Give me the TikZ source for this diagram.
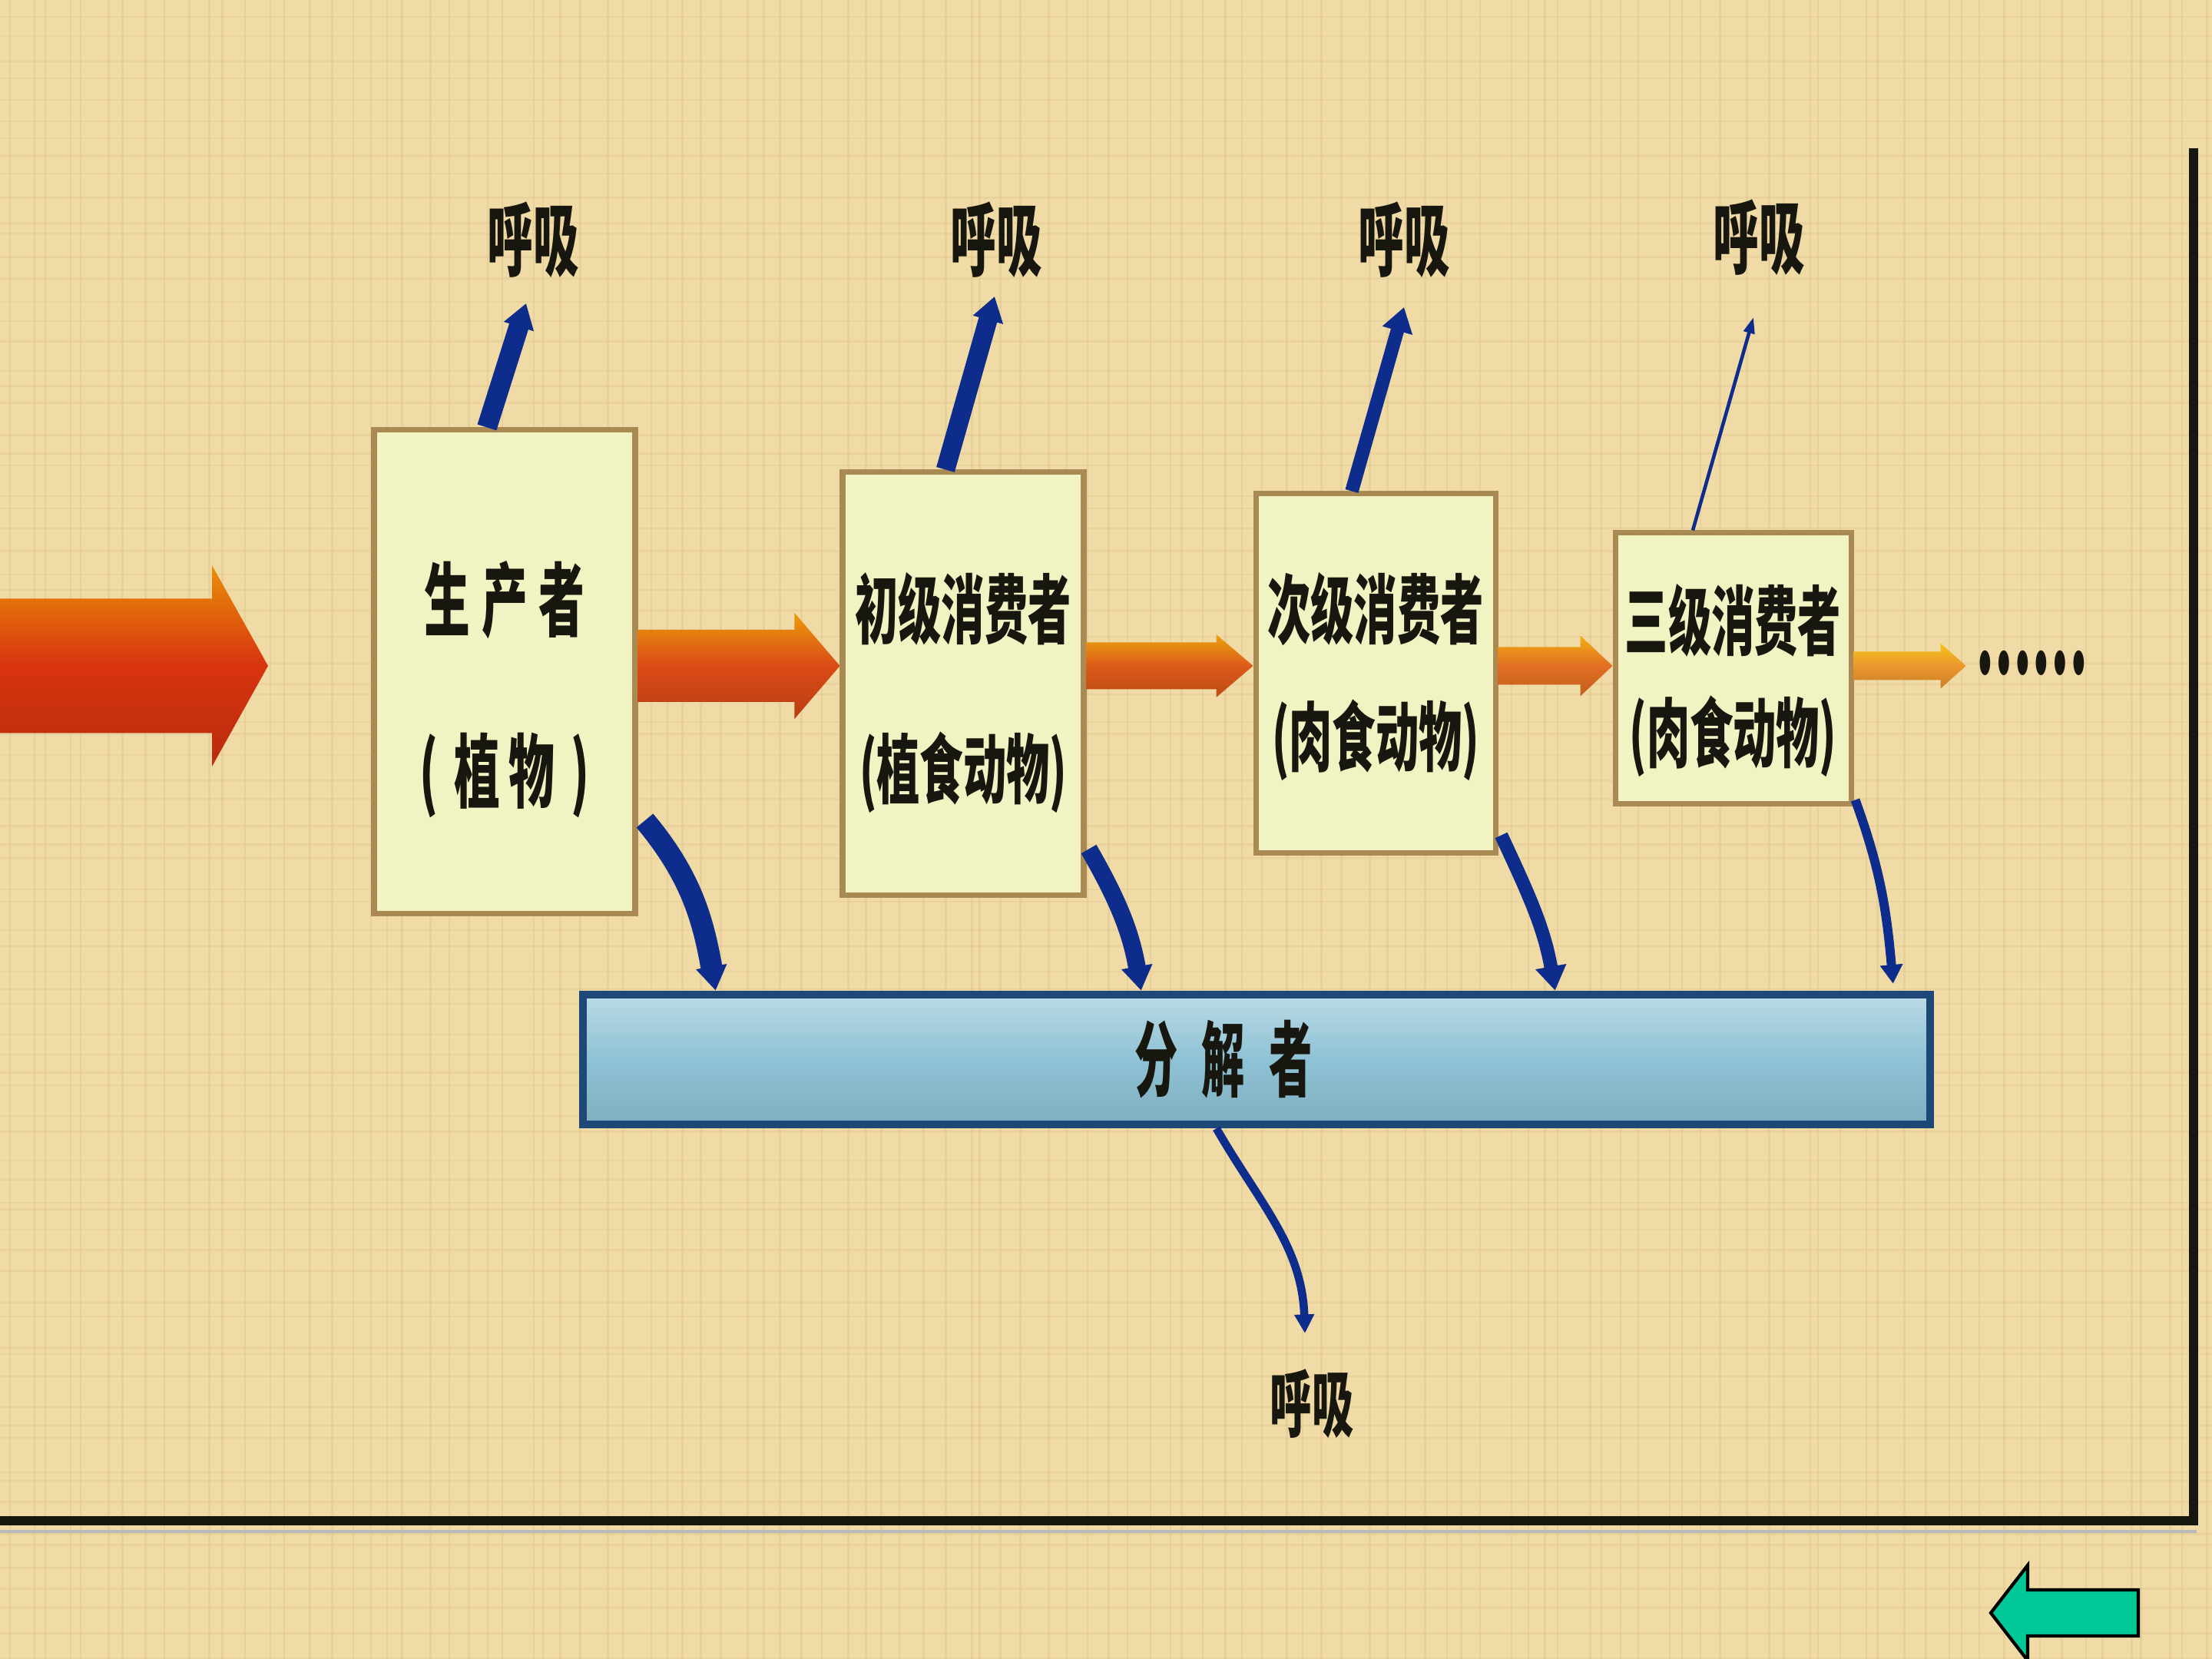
\documentclass[tikz,border=0pt]{standalone}
\usepackage{fontspec}
\usepackage{graphicx}
\newfontfamily\cjk{Noto Sans CJK SC}
\usetikzlibrary{positioning,arrows.meta,calc}
\definecolor{cPaper}{HTML}{F0DAA6}
\definecolor{cGrain}{HTML}{D9BE84}
\definecolor{cBoxFill}{HTML}{F1F3C2}
\definecolor{cBoxEdge}{HTML}{A98A52}
\definecolor{cBarFill}{HTML}{8EC2D5}
\definecolor{cBarEdge}{HTML}{1E4878}
\definecolor{cResp}{HTML}{0E2C8C}
\definecolor{cInk}{HTML}{17170F}
\definecolor{cRed}{HTML}{D8340F}
\definecolor{cRedB}{HTML}{DA4A16}
\definecolor{cRedC}{HTML}{DC5A1A}
\definecolor{cRedD}{HTML}{E26E22}
\definecolor{cOrange}{HTML}{EC962E}
\definecolor{cBack}{HTML}{00C896}

\newcommand{\tall}[2][1.75]{\scalebox{1}[#1]{#2}}
% energy arrow: start, tip, shaft half height, head half height, head length, colour
\newcommand{\energyarrow}[6]{%
  \shade[top color=#6!55!yellow, bottom color=#6!85!black, middle color=#6]
    ($(#1)+(0,#3)$) -- ($(#2)+(-#5,#3)$) -- ($(#2)+(-#5,#4)$) -- (#2)
    -- ($(#2)+(-#5,-#4)$) -- ($(#2)+(-#5,-#3)$) -- ($(#1)+(0,-#3)$) -- cycle;}

\begin{document}
\begin{tikzpicture}[
  box/.style={draw=cBoxEdge, fill=cBoxFill, line width=2pt, inner sep=0pt},
  bar/.style={draw=cBarEdge, line width=3pt, top color=cBarFill!60!white,
              bottom color=cBarFill!90!black, middle color=cBarFill, inner sep=0pt},
  boxtext/.style={font=\cjk\bfseries\fontsize{16}{18}\selectfont, text=cInk, inner sep=0pt},
  resp/.style={font=\cjk\bfseries\fontsize{17}{20}\selectfont, text=cInk, inner sep=0pt},
  uparrow/.style={draw=cResp, -{Triangle[length=9pt,width=11pt]}},
  downarrow/.style={draw=cResp, -{Triangle[length=9pt,width=11pt]}},
  grain/.style={draw=cGrain, opacity=0.35, line width=0.7pt},
]
\useasboundingbox (0,0) rectangle (28.8,21.6);
\clip (0,0) rectangle (28.8,21.6);
\fill[cPaper] (0,0) rectangle (28.8,21.6);
% parchment grain
\pgfmathsetseed{11}
\foreach \i in {0,...,110} {
  \pgfmathsetmacro\gx{0.26*\i+0.2*rnd}
  \draw[grain] (\gx,0) -- (\gx,21.6);
}
\foreach \i in {0,...,80} {
  \pgfmathsetmacro\gy{0.27*\i+0.2*rnd}
  \draw[grain, opacity=0.25] (0,\gy) -- (28.8,\gy);
}

% ---- trophic levels
\node[box, minimum width=34mm, minimum height=63mm] (prod) at (6.57,12.85) {};
\node[box, minimum width=31.4mm, minimum height=55.1mm] (prim) at (12.54,12.695) {};
\node[box, minimum width=31.2mm, minimum height=46.8mm] (sec) at (17.91,12.83) {};
\node[box, minimum width=30.7mm, minimum height=35.3mm] (ter) at (22.565,12.895) {};

\node[boxtext, font=\cjk\bfseries\fontsize{17}{20}\selectfont] (prodA) at ($(prod.center)+(0,0.94)$) {\tall{生\hspace{0.25em}产\hspace{0.25em}者}};
\node[boxtext, font=\cjk\bfseries\fontsize{17}{20}\selectfont] (prodB) at ($(prod.center)+(0,-1.35)$) {\tall{(\hspace{0.35em}植\hspace{0.2em}物\hspace{0.35em})}};
\node[boxtext] (primA) at ($(prim.center)+(0,0.975)$) {\tall{初级消费者}};
\node[boxtext] (primB) at ($(prim.center)+(0,-1.155)$) {\tall{(植食动物)}};
\node[boxtext] (secA) at ($(sec.center)+(0,0.84)$) {\tall{次级消费者}};
\node[boxtext] (secB) at ($(sec.center)+(0,-0.87)$) {\tall{(肉食动物)}};
\node[boxtext] (terA) at ($(ter.center)+(0,0.625)$) {\tall{三级消费者}};
\node[boxtext] (terB) at ($(ter.center)+(0,-0.885)$) {\tall{(肉食动物)}};

% ---- decomposers
\node[bar, minimum width=175.4mm, minimum height=16.9mm] (dec) at (16.36,7.805) {};
\node[boxtext] (decT) at ($(dec.center)+(-0.43,0)$) {\tall[1.9]{分\hspace{0.55em}解\hspace{0.55em}者}};

% ---- respiration labels
\node[resp] (r1) at (6.94,18.48) {\tall{呼吸}};
\node[resp] (r2) at (12.97,18.48) {\tall{呼吸}};
\node[resp] (r3) at (18.28,18.48) {\tall{呼吸}};
\node[resp] (r4) at (22.90,18.51) {\tall{呼吸}};
\node[resp, font=\cjk\bfseries\fontsize{15.5}{18}\selectfont] (r5) at (17.08,3.32) {\tall{呼吸}};

% ---- energy flow
\coordinate (flow) at (0,12.93);
\coordinate (sunS) at (-0.3,12.93);
\coordinate (sunT) at (3.49,12.93);
\node[boxtext] (more) at (26.45,12.97) {\scalebox{1.15}[2.6]{……}};
\coordinate (e2s) at (prod.east |- flow);
\coordinate (e2t) at (prim.west |- flow);
\coordinate (e3s) at (prim.east |- flow);
\coordinate (e3t) at (sec.west |- flow);
\coordinate (e4s) at (sec.east |- flow);
\coordinate (e4t) at (ter.west |- flow);
\coordinate (e5s) at (ter.east |- flow);
\coordinate (e5t) at ($(more.west |- flow)+(-0.12,0)$);
\energyarrow{sunS}{sunT}{0.875}{1.31}{0.73}{cRed}
\energyarrow{e2s}{e2t}{0.47}{0.69}{0.59}{cRedB}
\energyarrow{e3s}{e3t}{0.305}{0.41}{0.48}{cRedC}
\energyarrow{e4s}{e4t}{0.245}{0.395}{0.42}{cRedD}
\energyarrow{e5s}{e5t}{0.185}{0.295}{0.33}{cOrange}

% ---- respiration (up)
\draw[uparrow, line width=7.4pt] ($(prod.north)+(-0.23,0)$) -- ($(r1.center)+(-0.09,-0.83)$);
\draw[uparrow, line width=7pt] ($(prim.north)+(-0.23,0)$) -- ($(r2.center)+(-0.02,-0.74)$);
\draw[uparrow, line width=5pt] ($(sec.north)+(-0.31,0)$) -- ($(r3.center)+(0,-0.88)$);
\draw[uparrow, line width=1.3pt, -{Triangle[length=6pt,width=4pt]}] ($(ter.north)+(-0.525,0)$) -- ($(r4.center)+(-0.07,-1.04)$);

% ---- remains to decomposers (down)
\draw[downarrow, line width=8pt] ($(prod.south east)+(0.09,1.25)$) to[out=-50, in=100] ($(dec.north west)+(1.78,0)$);
\draw[downarrow, line width=6.5pt] ($(prim.south east)+(0.03,0.64)$) to[out=-60, in=100] ($(dec.north west)+(7.32,0)$);
\draw[downarrow, line width=5pt] ($(sec.south east)+(0.04,0.27)$) to[out=-65, in=100] ($(dec.north west)+(12.71,0)$);
\draw[downarrow, line width=3.4pt, -{Triangle[length=7pt,width=8pt]}] ($(ter.south east)+(0.02,0.09)$) to[out=-70, in=95] ($(dec.north west)+(17.11,0.09)$);
\draw[downarrow, line width=3pt, -{Triangle[length=7pt,width=7pt]}] ($(dec.south west)+(8.30,0)$) to[out=-60, in=92] ($(r5.center)+(-0.09,0.92)$);

% ---- slide frame and back button
\draw[cInk, line width=3.4pt] (-0.1,1.80) -- (28.56,1.80) -- (28.56,19.67);
\draw[gray!55, line width=1.2pt] (-0.1,1.66) -- (28.6,1.66);
\draw[fill=cBack, draw=black, line width=1.2pt, line join=miter]
  (25.92,0.60) -- (26.40,1.22) -- (26.40,0.90) -- (27.84,0.90)
  -- (27.84,0.30) -- (26.40,0.30) -- (26.40,-0.02) -- cycle;
\end{tikzpicture}
\end{document}
